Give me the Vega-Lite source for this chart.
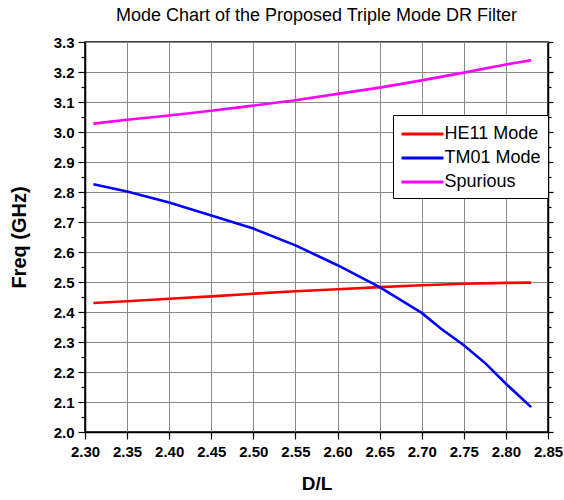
{
  "$schema": "https://vega.github.io/schema/vega-lite/v6.json",
  "width": 463,
  "height": 390,
  "autosize": {"type": "none"},
  "padding": {"left": 85, "top": 42, "right": 16, "bottom": 68},
  "background": "white",
  "title": {
    "text": "Mode Chart of the Proposed Triple Mode DR Filter",
    "font": "Liberation Sans",
    "fontSize": 18,
    "fontWeight": "normal",
    "color": "black",
    "anchor": "middle",
    "offset": 10
  },
  "config": {
    "view": {"stroke": "black", "strokeWidth": 1.5},
    "axis": {
      "labelFont": "Liberation Sans",
      "labelFontWeight": "bold",
      "labelFontSize": 15,
      "labelColor": "black",
      "titleFont": "Liberation Sans",
      "titleFontWeight": "bold",
      "titleColor": "black",
      "domainColor": "black",
      "domainWidth": 1.5,
      "tickColor": "black",
      "tickWidth": 1.2,
      "gridColor": "#8a8a8a",
      "gridWidth": 1,
      "gridOpacity": 1,
      "labelOverlap": false,
      "labelFlush": false
    }
  },
  "data": {
    "values": [
      {"series": "HE11 Mode", "dl": 2.31, "freq": 2.430},
      {"series": "HE11 Mode", "dl": 2.35, "freq": 2.436},
      {"series": "HE11 Mode", "dl": 2.40, "freq": 2.444},
      {"series": "HE11 Mode", "dl": 2.45, "freq": 2.452},
      {"series": "HE11 Mode", "dl": 2.50, "freq": 2.461},
      {"series": "HE11 Mode", "dl": 2.55, "freq": 2.469},
      {"series": "HE11 Mode", "dl": 2.60, "freq": 2.476},
      {"series": "HE11 Mode", "dl": 2.65, "freq": 2.483},
      {"series": "HE11 Mode", "dl": 2.70, "freq": 2.489},
      {"series": "HE11 Mode", "dl": 2.75, "freq": 2.494},
      {"series": "HE11 Mode", "dl": 2.80, "freq": 2.497},
      {"series": "HE11 Mode", "dl": 2.83, "freq": 2.498},
      {"series": "TM01 Mode", "dl": 2.31, "freq": 2.826},
      {"series": "TM01 Mode", "dl": 2.35, "freq": 2.802},
      {"series": "TM01 Mode", "dl": 2.40, "freq": 2.765},
      {"series": "TM01 Mode", "dl": 2.45, "freq": 2.722},
      {"series": "TM01 Mode", "dl": 2.50, "freq": 2.678},
      {"series": "TM01 Mode", "dl": 2.55, "freq": 2.622},
      {"series": "TM01 Mode", "dl": 2.60, "freq": 2.556},
      {"series": "TM01 Mode", "dl": 2.65, "freq": 2.483},
      {"series": "TM01 Mode", "dl": 2.70, "freq": 2.397},
      {"series": "TM01 Mode", "dl": 2.723, "freq": 2.344},
      {"series": "TM01 Mode", "dl": 2.75, "freq": 2.289},
      {"series": "TM01 Mode", "dl": 2.776, "freq": 2.228},
      {"series": "TM01 Mode", "dl": 2.80, "freq": 2.161},
      {"series": "TM01 Mode", "dl": 2.83, "freq": 2.083},
      {"series": "Spurious", "dl": 2.31, "freq": 3.028},
      {"series": "Spurious", "dl": 2.35, "freq": 3.041},
      {"series": "Spurious", "dl": 2.40, "freq": 3.055},
      {"series": "Spurious", "dl": 2.45, "freq": 3.071},
      {"series": "Spurious", "dl": 2.50, "freq": 3.088},
      {"series": "Spurious", "dl": 2.55, "freq": 3.106},
      {"series": "Spurious", "dl": 2.60, "freq": 3.127},
      {"series": "Spurious", "dl": 2.65, "freq": 3.148},
      {"series": "Spurious", "dl": 2.70, "freq": 3.172},
      {"series": "Spurious", "dl": 2.75, "freq": 3.198},
      {"series": "Spurious", "dl": 2.80, "freq": 3.225},
      {"series": "Spurious", "dl": 2.83, "freq": 3.239}
    ]
  },
  "encoding": {
    "x": {
      "field": "dl",
      "type": "quantitative",
      "scale": {"domain": [2.3, 2.85], "nice": false, "zero": false},
      "axis": {
        "title": "D/L",
        "titleFontSize": 19,
        "titlePadding": 15,
        "values": [2.3, 2.35, 2.4, 2.45, 2.5, 2.55, 2.6, 2.65, 2.7, 2.75, 2.8, 2.85],
        "format": ".2f",
        "tickSize": 7,
        "labelPadding": 5
      }
    }
  },
  "layer": [
    {
      "mark": {"type": "line", "strokeWidth": 2.6, "clip": true},
      "encoding": {
        "y": {
          "field": "freq",
          "type": "quantitative",
          "scale": {"domain": [2.0, 3.3], "nice": false, "zero": false},
          "axis": {
            "title": "Freq (GHz)",
            "titleFontSize": 20,
            "titlePadding": 24,
            "orient": "left",
            "values": [2.0, 2.05, 2.1, 2.15, 2.2, 2.25, 2.3, 2.35, 2.4, 2.45, 2.5, 2.55, 2.6, 2.65, 2.7, 2.75, 2.8, 2.85, 2.9, 2.95, 3.0, 3.05, 3.1, 3.15, 3.2, 3.25, 3.3],
            "labelExpr": "round(datum.value*100) % 10 == 0 ? format(datum.value, '.1f') : ''",
            "tickSize": {"condition": {"test": "round(datum.value*100) % 10 != 0", "value": 4}, "value": 7},
            "gridOpacity": {"condition": {"test": "round(datum.value*100) % 10 != 0", "value": 0}, "value": 1},
            "labelPadding": 4
          }
        },
        "color": {
          "field": "series",
          "type": "nominal",
          "scale": {"domain": ["HE11 Mode", "TM01 Mode", "Spurious"], "range": ["#ff0000", "#0000ff", "#ff00ff"]},
          "legend": {
            "title": null,
            "orient": "none",
            "legendX": 308,
            "legendY": 73,
            "symbolType": "M-2,0H2",
            "symbolSize": 441,
            "symbolOffset": 10.5,
            "symbolStrokeWidth": 3,
            "labelFont": "Liberation Sans",
            "labelFontSize": 18,
            "labelColor": "black",
            "labelOffset": 10,
            "rowPadding": 3,
            "padding": 7,
            "strokeColor": "black",
            "fillColor": "white",
            "labelLimit": 200
          }
        },
        "detail": {"field": "series"}
      }
    },
    {
      "mark": {"type": "line", "opacity": 0},
      "encoding": {
        "y": {
          "field": "freq",
          "type": "quantitative",
          "axis": {
            "title": null,
            "orient": "right",
            "labels": false,
            "grid": false,
            "values": [2.0, 2.05, 2.1, 2.15, 2.2, 2.25, 2.3, 2.35, 2.4, 2.45, 2.5, 2.55, 2.6, 2.65, 2.7, 2.75, 2.8, 2.85, 2.9, 2.95, 3.0, 3.05, 3.1, 3.15, 3.2, 3.25, 3.3],
            "tickSize": {"condition": {"test": "round(datum.value*100) % 10 != 0", "value": 3}, "value": 5}
          }
        },
        "detail": {"field": "series"}
      }
    }
  ],
  "resolve": {"axis": {"y": "independent"}}
}
